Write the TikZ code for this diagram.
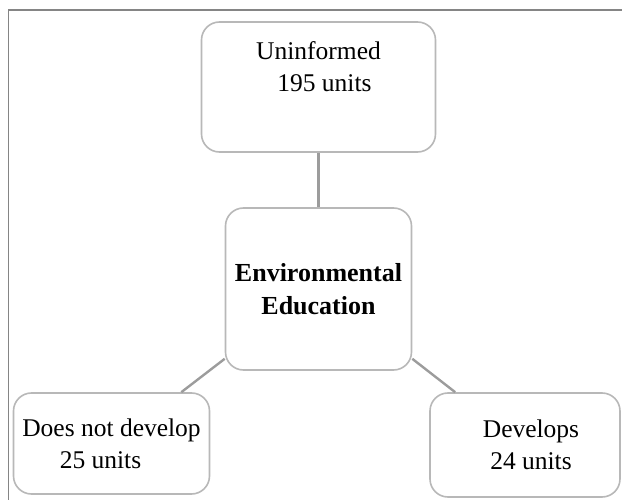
\documentclass[tikz,border=0pt]{standalone}
\usepackage{fontspec}
\setmainfont{Liberation Serif}
\definecolor{boxgray}{HTML}{B8B8B8}
\definecolor{linkgray}{HTML}{9C9C9C}
\definecolor{framegray}{HTML}{858585}

\begin{document}
\begin{tikzpicture}[x=1pt,y=-1pt,
  box/.style={draw=boxgray, line width=1.6pt, rounded corners=18pt, fill=white,
    align=center, inner sep=0pt, font=\fontsize{25.5}{32}\selectfont},
  link/.style={draw=linkgray, line width=2.4pt}]
  \useasboundingbox (0,0) rectangle (622,500);
  % frame, only its left and top sides show
  \draw[framegray, line width=1.6pt] (8.5,500) -- (8.5,10) -- (622,10);

  \node[box, minimum width=234pt, minimum height=130pt] (uninf) at (318.5,87)
    {Uninformed\\ \hspace*{12pt}195 units\\ \strut};
  \node[box, minimum width=186pt, minimum height=162pt,
    font=\bfseries\fontsize{26}{33}\selectfont] (env) at (318.5,289)
    {Environmental\\Education};
  \node[box, minimum width=196pt, minimum height=101pt] (nodev) at (111.5,443.5)
    {Does not develop\\ \hspace*{-22pt}25 units};
  \node[box, minimum width=190pt, minimum height=104pt] (dev) at (525,445)
    {\hspace*{12pt}Develops\\ \hspace*{12pt}24 units};

  % links from the centre box
  \draw[link] (uninf.south) -- (env.north);
  \draw[link] ([yshift=12pt]env.south west) -- ([xshift=-29pt]nodev.north east);
  \draw[link] ([yshift=12pt]env.south east) -- ([xshift=26pt]dev.north west);
\end{tikzpicture}
\end{document}
